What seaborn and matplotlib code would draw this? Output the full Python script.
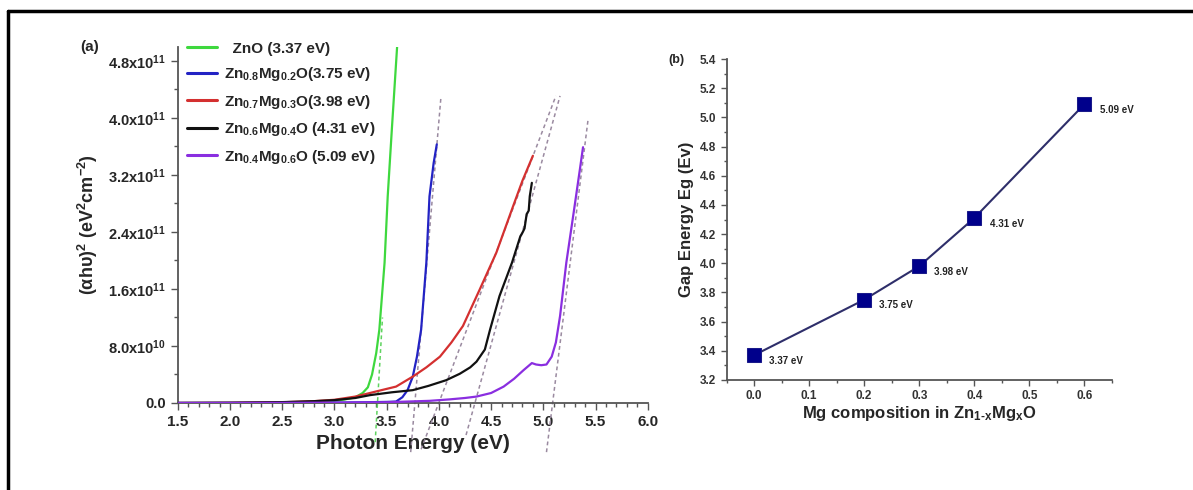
import numpy as np
import pandas as pd
import matplotlib.pyplot as plt
import seaborn as sns
from matplotlib.lines import Line2D
from matplotlib.ticker import MultipleLocator, FixedLocator, FuncFormatter

# ---------------------------------------------------------
# DADOS
# ---------------------------------------------------------
# (a) Tauc plot, valores em 1e11 eV^2 cm^-2
e_zno = [1.5, 2.0, 2.5, 2.8, 3.0, 3.1, 3.2, 3.27, 3.32, 3.36, 3.4, 3.43, 3.48, 3.51, 3.55, 3.6]
v_zno = [0, 0.002, 0.006, 0.015, 0.03, 0.05, 0.08, 0.14, 0.22, 0.4, 0.7, 1.03, 1.97, 2.9, 3.85, 5.0]

e_mg02 = [1.5, 2.0, 2.5, 3.0, 3.3, 3.5, 3.59, 3.65, 3.7, 3.75, 3.79, 3.83, 3.88, 3.91, 3.95, 3.98]
v_mg02 = [0.0, 0.0, 0.0, 0.005, 0.01, 0.015, 0.02, 0.08, 0.18, 0.37, 0.65, 1.03, 1.97, 2.9, 3.37, 3.63]

e_mg03 = [1.5, 2.0, 2.5, 2.8, 3.0, 3.2, 3.34, 3.45, 3.59, 3.75, 3.88, 4.01, 4.12, 4.23, 4.39,
          4.55, 4.71, 4.8, 4.9]
v_mg03 = [0, 0.002, 0.01, 0.025, 0.045, 0.09, 0.14, 0.18, 0.23, 0.37, 0.5, 0.65, 0.85, 1.08, 1.59,
          2.11, 2.76, 3.12, 3.47]

e_mg04 = [1.5, 2.0, 2.5, 2.8, 3.0, 3.2, 3.34, 3.55, 3.75, 3.9, 4.07, 4.2, 4.3, 4.36, 4.44, 4.49, 4.58,
          4.7, 4.78, 4.8, 4.82, 4.84, 4.86, 4.87, 4.89]
v_mg04 = [0, 0.003, 0.012, 0.025, 0.04, 0.07, 0.11, 0.15, 0.18, 0.24, 0.32, 0.41, 0.5, 0.58, 0.75, 1.03, 1.5,
          1.97, 2.34, 2.39, 2.45, 2.65, 2.7, 2.9, 3.09]

e_mg06 = [1.5, 2.5, 3.0, 3.5, 3.7, 3.91, 4.1, 4.25, 4.36, 4.5, 4.62, 4.72, 4.81, 4.89, 4.93, 4.98,
          5.03, 5.08, 5.12, 5.16, 5.22, 5.29, 5.35, 5.38]
v_mg06 = [0, 0.002, 0.005, 0.01, 0.02, 0.03, 0.05, 0.07, 0.09, 0.14, 0.23, 0.34, 0.46, 0.56, 0.54, 0.53,
          0.54, 0.65, 0.85, 1.22, 1.97, 2.67, 3.28, 3.59]

amostras = ['  ZnO (3.37 eV)',
            'Zn$_{0.8}$Mg$_{0.2}$O(3.75 eV)',
            'Zn$_{0.7}$Mg$_{0.3}$O(3.98 eV)',
            'Zn$_{0.6}$Mg$_{0.4}$O (4.31 eV)',
            'Zn$_{0.4}$Mg$_{0.6}$O (5.09 eV)']
cores = ['#3ed83e', '#2323c4', '#d43030', '#111111', '#8a2ee0']

# retas tangentes (extrapolacao do gap)
tan_e0 = [3.39, 3.73, 3.83, 4.26, 5.03]
tan_v0 = [-0.55, -0.69, -0.65, -0.45, -0.69]
tan_e1 = [3.46, 4.02, 5.12, 5.16, 5.43]
tan_v1 = [1.2, 4.3, 4.31, 4.31, 4.0]

# (b) gap vs composicao
x_mg = [0.0, 0.2, 0.3, 0.4, 0.6]
gap = [3.37, 3.75, 3.98, 4.31, 5.09]
gap_labels = ['3.37 eV', '3.75 eV', '3.98 eV', '4.31 eV', '5.09 eV']

# ---------------------------------------------------------
# ESTILO
# ---------------------------------------------------------
sns.set_theme(style="ticks")
plt.rcParams['font.family'] = ['Liberation Sans', 'DejaVu Sans']
plt.rcParams['font.weight'] = 'bold'
plt.rcParams['mathtext.fontset'] = 'custom'
plt.rcParams['mathtext.rm'] = 'Liberation Sans:bold'
plt.rcParams['mathtext.it'] = 'Liberation Sans:bold'
plt.rcParams['mathtext.bf'] = 'Liberation Sans:bold'
plt.rcParams['mathtext.default'] = 'bf'

fig = plt.figure(figsize=(11.93, 4.90), dpi=100)
fig.patch.set_facecolor('white')

# moldura (esquerda e topo)
fig.add_artist(Line2D([8 / 1193, 8 / 1193], [0, 1 - 11 / 490], transform=fig.transFigure, color='black', lw=2.5))
fig.add_artist(Line2D([8 / 1193, 1], [1 - 11 / 490, 1 - 11 / 490], transform=fig.transFigure, color='black', lw=2.5))

spine_cor = '#555555'

# --- painel (a) ---
ax1 = fig.add_axes([0.149, 0.1776, 0.394, 0.727])
frames = []
for nome, e, v in zip(amostras, [e_zno, e_mg02, e_mg03, e_mg04, e_mg06],
                      [v_zno, v_mg02, v_mg03, v_mg04, v_mg06]):
    frames.append(pd.DataFrame({'E': e, 'val': np.array(v) * 1e11, 'amostra': nome}))
df = pd.concat(frames, ignore_index=True)

for e0, v0, e1, v1, c in zip(tan_e0, tan_v0, tan_e1, tan_v1, cores):
    cor_t = '#5fd35f' if c == cores[0] else '#9a8aa0'
    ax1.plot([e0, e1], [v0 * 1e11, v1 * 1e11], ls=(0, (2.5, 2)), color=cor_t, lw=1.1, clip_on=False, zorder=1)

sns.lineplot(data=df, x='E', y='val', hue='amostra', palette=dict(zip(amostras, cores)),
             hue_order=amostras, estimator=None, sort=False, lw=1.6, ax=ax1, zorder=3)

ax1.set_xlim(1.5, 6.0)
ax1.set_ylim(0, 5.0e11)
ax1.xaxis.set_major_locator(MultipleLocator(0.5))
ax1.xaxis.set_minor_locator(MultipleLocator(0.1))
ax1.yaxis.set_major_locator(FixedLocator(np.arange(0, 5.0e11, 0.8e11)))
ax1.yaxis.set_minor_locator(MultipleLocator(0.4e11))


def fmt_y(v, pos):
    if v == 0:
        return '0.0'
    exp = int(np.floor(np.log10(v)))
    return '%.1fx10$^{%d}$' % (v / 10 ** exp, exp)


ax1.yaxis.set_major_formatter(FuncFormatter(fmt_y))
ax1.xaxis.set_major_formatter(FuncFormatter(lambda v, p: '%.1f' % v))
ax1.set_xlabel('Photon Energy (eV)', fontsize=15, fontweight='bold', labelpad=4)
ax1.set_ylabel(r'($\alpha$h$\upsilon$)$^2$ (eV$^2$cm$^{-2}$)', fontsize=13, fontweight='bold', labelpad=6)
ax1.tick_params(axis='both', which='major', direction='out', length=5, width=1, color=spine_cor, labelsize=11)
ax1.tick_params(axis='both', which='minor', direction='out', length=3, width=1, color=spine_cor)
ax1.tick_params(axis='y', labelsize=10.5)
sns.despine(ax=ax1)
for s in ['left', 'bottom']:
    ax1.spines[s].set_color(spine_cor)
    ax1.spines[s].set_linewidth(1.3)

leg = ax1.legend(loc='upper left', bbox_to_anchor=(0.0, 1.04), frameon=False, fontsize=11,
                 handlelength=2.0, handletextpad=0.4, labelspacing=0.62, borderaxespad=0.2)
for t in leg.get_texts():
    t.set_fontweight('bold')
for h in leg.legend_handles:
    h.set_linewidth(2.2)

fig.text(80 / 1193, 1 - 47 / 490, '(a)', fontsize=11, fontweight='bold', ha='left', va='center')

# --- painel (b) ---
ax2 = fig.add_axes([0.609, 0.2245, 0.323, 0.655])
df_b = pd.DataFrame({'x': x_mg, 'gap': gap})
sns.lineplot(data=df_b, x='x', y='gap', color='#2e2e6a', lw=1.5, marker='s', markersize=10,
             markerfacecolor='#00008b', markeredgecolor='#1a1a8a', ax=ax2)
for xi, yi, lab in zip(x_mg, gap, gap_labels):
    ax2.annotate(lab, (xi, yi), xytext=(11, -4), textcoords='offset points', fontsize=7,
                 fontweight='bold', color='#222222', va='center')

ax2.set_xlim(-0.05, 0.65)
ax2.set_ylim(3.2, 5.4)
ax2.xaxis.set_major_locator(MultipleLocator(0.1))
ax2.xaxis.set_minor_locator(MultipleLocator(0.05))
ax2.yaxis.set_major_locator(MultipleLocator(0.2))
ax2.yaxis.set_minor_locator(MultipleLocator(0.1))
ax2.xaxis.set_major_formatter(FuncFormatter(lambda v, p: '%.1f' % v))
ax2.yaxis.set_major_formatter(FuncFormatter(lambda v, p: '%.1f' % v))
ax2.set_xlabel(r'Mg composition in Zn$_{1\text{-}x}$Mg$_x$O', fontsize=12, fontweight='bold', labelpad=1)
ax2.set_ylabel('Gap Energy Eg (Ev)', fontsize=12, fontweight='bold', labelpad=4)
ax2.tick_params(axis='both', which='major', direction='out', length=4, width=1, color=spine_cor,
                labelsize=8.5, labelcolor='#333333')
ax2.tick_params(axis='both', which='minor', direction='out', length=2.5, width=1, color=spine_cor)
sns.despine(ax=ax2)
for s in ['left', 'bottom']:
    ax2.spines[s].set_color(spine_cor)
    ax2.spines[s].set_linewidth(1.3)

fig.text(668 / 1193, 1 - 60 / 490, '(b)', fontsize=9, fontweight='bold', ha='left', va='center')

plt.savefig('out.png', dpi=100, facecolor='white')
